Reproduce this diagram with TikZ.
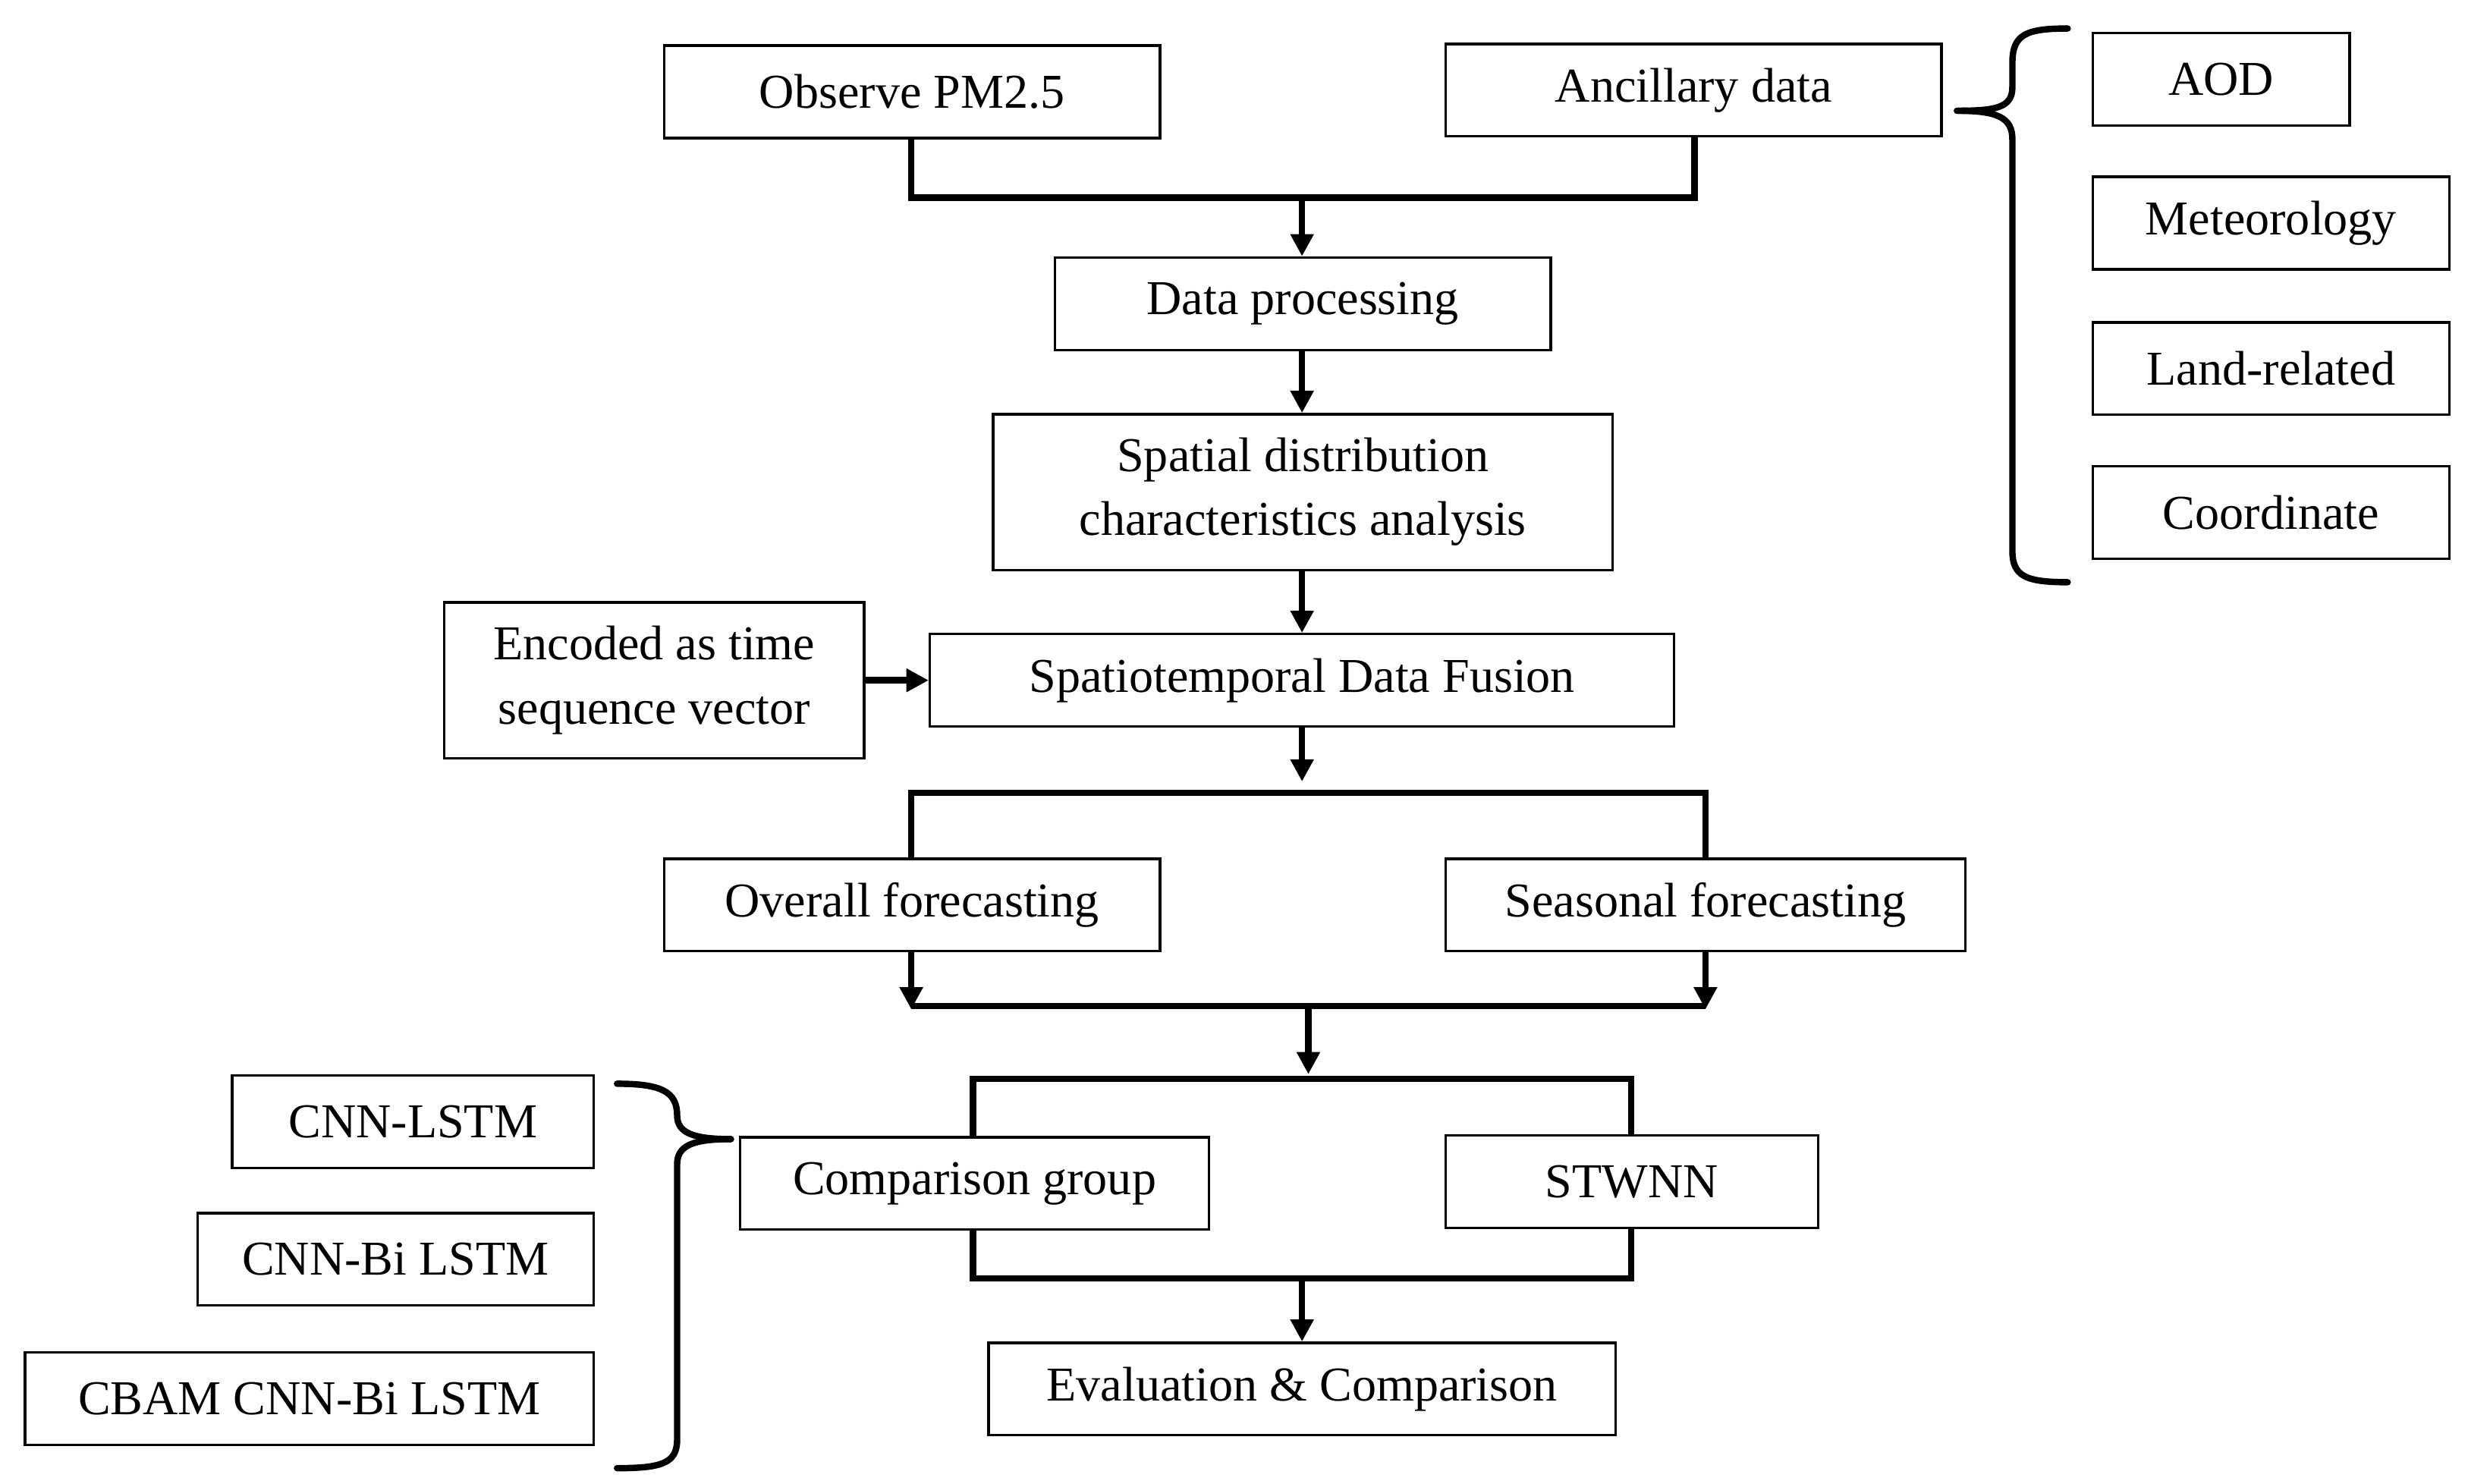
\documentclass[tikz,border=0pt]{standalone}
\usepackage{fontspec}
\setmainfont{Liberation Serif}
\usetikzlibrary{arrows.meta,calc}
\begin{document}
\begin{tikzpicture}[x=0.02cm,y=-0.02cm,
  box/.style={draw,line width=0.9pt,inner sep=0pt,font=\fontsize{17.5}{23}\selectfont,align=center},
  con/.style={line width=2.3pt},
  arr/.style={line width=2.3pt,-{Triangle[length=8pt,width=8pt]}}]
\useasboundingbox (0,0) rectangle (1560,938);
\newcommand\bx[6]{\node[box,minimum width=#4*0.02cm-0.9pt,minimum height=#5*0.02cm-0.9pt] (#1) at ({(#2+#4/2)},{(#3+#5/2)}) {#6};}
\bx{obs}{419}{28}{315}{60}{Observe PM2.5}
\bx{anc}{913}{27}{315}{60}{Ancillary data}
\bx{aod}{1322}{20}{164}{60}{AOD}
\bx{met}{1322}{111}{227}{60}{Meteorology}
\bx{land}{1322}{203}{227}{60}{Land-related}
\bx{coord}{1322}{294}{227}{60}{Coordinate}
\bx{dp}{666}{162}{315}{60}{Data processing}
\bx{sp}{627}{261}{393}{100}{Spatial distribution\\characteristics analysis}
\bx{enc}{280}{380}{267}{100}{Encoded as time\\sequence vector}
\bx{st}{587}{400}{472}{60}{Spatiotemporal Data Fusion}
\bx{ov}{419}{542}{315}{60}{Overall forecasting}
\bx{se}{913}{542}{330}{60}{Seasonal forecasting}
\bx{cg}{467}{718}{298}{60}{Comparison group}
\bx{stw}{913}{717}{237}{60}{STWNN}
\bx{ev}{624}{848}{398}{60}{Evaluation \& Comparison}
\bx{c1}{146}{679}{230}{60}{CNN-LSTM}
\bx{c2}{124}{766}{252}{60}{CNN-Bi LSTM}
\bx{c3}{15}{854}{361}{60}{CBAM CNN-Bi LSTM}
% top merge
\coordinate (j1) at (823,125);
\draw[con] (obs.south -| 576,0) -- (576,125) -- (1071,125) -- (anc.south -| 1071,0);
\draw[arr] (j1) -- (dp.north -| j1);
\draw[arr] (dp.south -| 823,0) -- (sp.north -| 823,0);
\draw[arr] (sp.south -| 823,0) -- (st.north -| 823,0);
\draw[arr] (enc.east) -- (st.west);
\coordinate (j2) at (823,501);
\draw[arr] (st.south -| j2) -- ([yshift=4pt]j2);
\draw[con] (ov.north -| 576,0) -- (576,501) -- (1078,501) -- (se.north -| 1078,0);
\coordinate (j3) at (827,636);
\draw[arr] (ov.south -| 576,0) -- (576,638);
\draw[arr] (se.south -| 1078,0) -- (1078,638);
\draw[con] (576,636) -- (1078,636);
\draw[arr] (j3) -- (827,679);
\draw[con] (cg.north -| 615,0) -- (615,682) -- (1031,682) -- (stw.north -| 1031,0);
\draw[con] (cg.south -| 615,0) -- (615,808) -- (1031,808) -- (stw.south -| 1031,0);
\coordinate (j4) at (823,808);
\draw[arr] (j4) -- (ev.north -| j4);
% braces
\coordinate (b1) at (1237,70);
\draw[con,line cap=round] (1307,18) .. controls (1280,18) and (1272,22) .. (1272,40) -- (1272,55) .. controls (1272,68) and (1262,70) .. (b1);
\draw[con,line cap=round] (b1) .. controls (1262,70) and (1272,74) .. (1272,88) -- (1272,348) .. controls (1272,364) and (1280,368) .. (1307,368);
\coordinate (b2) at (462,720);
\draw[con,line cap=round] (390,685) .. controls (418,685) and (428,690) .. (428,705) .. controls (428,716) and (438,720) .. (b2);
\draw[con,line cap=round] (b2) .. controls (438,720) and (428,724) .. (428,736) -- (428,910) .. controls (428,925) and (418,928) .. (390,928);
\end{tikzpicture}
\end{document}
